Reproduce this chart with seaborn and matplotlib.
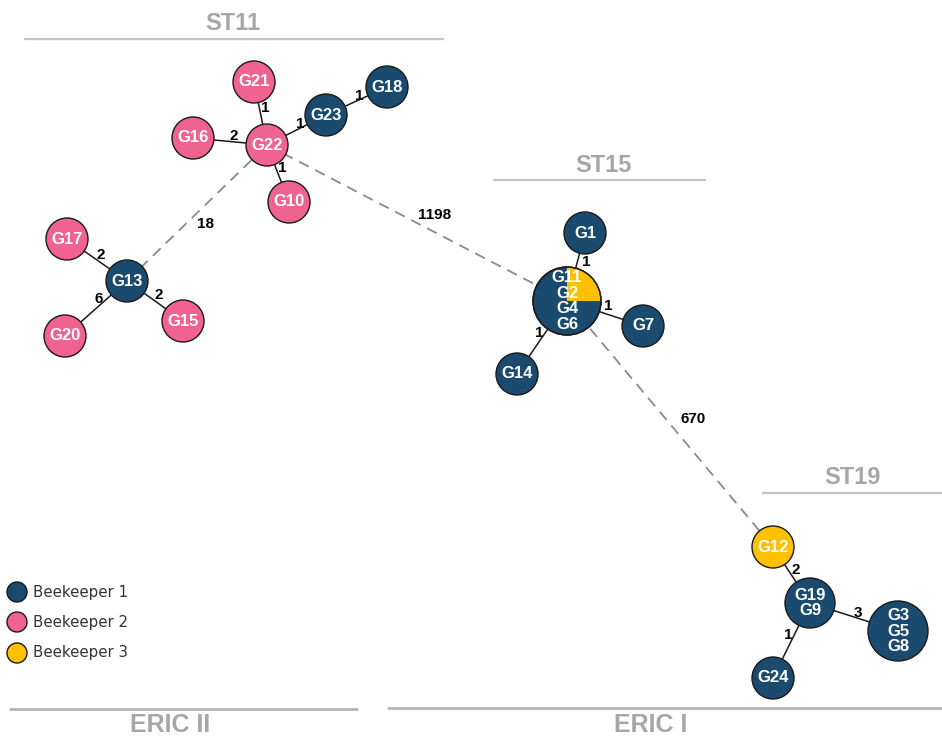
import matplotlib
matplotlib.use("Agg")
import matplotlib.pyplot as plt
from matplotlib.patches import Wedge, Circle
import pandas as pd
import seaborn as sns

# Node layout (pixel space of the original figure)
node_names = ["G21", "G16", "G22", "G23", "G18", "G10",
              "G17", "G13", "G15", "G20",
              "G11\nG2\nG4\nG6", "G1", "G7", "G14",
              "G12", "G19\nG9", "G3\nG5\nG8", "G24"]
node_x = [254, 193, 267, 326, 387, 289,
          67, 127, 183, 65,
          567, 585, 643, 517,
          773, 810, 898, 773]
node_y = [82, 138, 145, 115, 87, 202,
          239, 281, 321, 336,
          301, 233, 326, 374,
          547, 603, 631, 678]
node_r = [21, 21, 21, 21, 21, 21,
          21, 21, 21, 21,
          34, 21, 21, 21,
          21, 25, 30, 21]
node_group = ["Beekeeper 2", "Beekeeper 2", "Beekeeper 2", "Beekeeper 1", "Beekeeper 1", "Beekeeper 2",
              "Beekeeper 2", "Beekeeper 1", "Beekeeper 2", "Beekeeper 2",
              "Beekeeper 1", "Beekeeper 1", "Beekeeper 1", "Beekeeper 1",
              "Beekeeper 3", "Beekeeper 1", "Beekeeper 1", "Beekeeper 1"]

# share of beekeeper 3 inside the central ST15 node
pie_node = 10
pie_share = 0.25

# solid links: (from, to, distance, label position)
edge_from = [2, 2, 2, 3, 2, 7, 7, 7, 10, 10, 10, 14, 15, 15]
edge_to = [0, 1, 3, 4, 5, 6, 9, 8, 11, 12, 13, 15, 16, 17]
edge_label = ["1", "2", "1", "1", "1", "2", "6", "2", "1", "1", "1", "2", "3", "1"]
edge_lx = [265, 234, 300, 359, 282, 101, 99, 159, 586, 608, 539, 796, 858, 788]
edge_ly = [108, 136, 124, 96, 168, 255, 299, 295, 262, 306, 333, 570, 613, 635]

# dashed links between sequence types
dash_from = [7, 2, 10]
dash_to = [2, 10, 14]
dash_label = ["18", "1198", "670"]
dash_lx = [205, 435, 693]
dash_ly = [224, 215, 419]

# group headers
st_names = ["ST11", "ST15", "ST19"]
st_tx = [233, 603, 852]
st_ty = [23, 165, 478]
st_x0 = [25, 494, 763]
st_x1 = [443, 705, 942]
st_ly = [39, 180, 493]

eric_names = ["ERIC II", "ERIC I"]
eric_tx = [170, 651]
eric_x0 = [10, 388]
eric_x1 = [357, 942]
eric_ly = [709, 708]

legend_names = ["Beekeeper 1", "Beekeeper 2", "Beekeeper 3"]
legend_y = [592, 622, 653]

colors = {"Beekeeper 1": "#1a4b6e", "Beekeeper 2": "#f0628f", "Beekeeper 3": "#ffc000"}

W, H, DPI = 942, 740, 100


def px_to_area(r):
    # scatter marker area (points^2) for a radius given in pixels
    d = 2 * r * 72 / DPI
    return d * d


nodes = pd.DataFrame({"name": node_names, "x": node_x, "y": node_y,
                      "r": node_r, "group": node_group})

sns.set_style("white")
fig = plt.figure(figsize=(W / DPI, H / DPI), dpi=DPI)
ax = fig.add_axes([0, 0, 1, 1])
ax.set_xlim(0, W)
ax.set_ylim(H, 0)
ax.axis("off")

# links
for a, b in zip(edge_from, edge_to):
    ax.plot([node_x[a], node_x[b]], [node_y[a], node_y[b]], color="#1a1a1a", lw=1.1, zorder=1)
for a, b in zip(dash_from, dash_to):
    ax.plot([node_x[a], node_x[b]], [node_y[a], node_y[b]], color="#8a8a8a", lw=1.3,
            dashes=(6, 4), zorder=1)

# nodes
sns.scatterplot(data=nodes, x="x", y="y", hue="group", palette=colors,
                size="r", sizes={r: px_to_area(r) for r in set(node_r)},
                edgecolor="#1a1a1a", linewidth=1.0, legend=False, ax=ax, zorder=3)

# yellow quarter in the central node (y axis is inverted)
ax.add_patch(Wedge((node_x[pie_node], node_y[pie_node]), node_r[pie_node] - 0.6,
                   360 - 360 * pie_share, 360, facecolor=colors["Beekeeper 3"],
                   edgecolor="none", zorder=4))
ax.add_patch(Circle((node_x[pie_node], node_y[pie_node]), node_r[pie_node],
                    fill=False, edgecolor="#1a1a1a", lw=1.0, zorder=5))

for name, x, y in zip(node_names, node_x, node_y):
    ax.text(x, y, name, ha="center", va="center", color="white", fontsize=12,
            fontweight="bold", family="Liberation Sans", linespacing=1.08, zorder=6)

for lab, x, y in zip(edge_label + dash_label, edge_lx + dash_lx, edge_ly + dash_ly):
    ax.text(x, y, lab, ha="center", va="center", color="black", fontsize=11,
            fontweight="bold", family="Liberation Sans", zorder=6)

# headers
for name, tx, ty, x0, x1, ly in zip(st_names, st_tx, st_ty, st_x0, st_x1, st_ly):
    ax.plot([x0, x1], [ly, ly], color="#c4c4c4", lw=1.6, zorder=0)
    ax.text(tx, ty, name, ha="center", va="center", color="#a6a6a6", fontsize=17,
            fontweight="bold", family="Liberation Sans")

for name, tx, x0, x1, ly in zip(eric_names, eric_tx, eric_x0, eric_x1, eric_ly):
    ax.plot([x0, x1], [ly, ly], color="#b4b4b4", lw=2.0, zorder=0)
    ax.text(tx, 725, name, ha="center", va="center", color="#a6a6a6", fontsize=18,
            fontweight="bold", family="Liberation Sans")

# legend
leg = pd.DataFrame({"x": [17] * 3, "y": legend_y, "group": legend_names})
sns.scatterplot(data=leg, x="x", y="y", hue="group", palette=colors, s=px_to_area(10),
                edgecolor="#1a1a1a", linewidth=1.0, legend=False, ax=ax, zorder=3)
for name, y in zip(legend_names, legend_y):
    ax.text(33, y, name, ha="left", va="center", color="#333333", fontsize=10.8,
            family="DejaVu Sans")

fig.savefig("out.png", dpi=DPI)
